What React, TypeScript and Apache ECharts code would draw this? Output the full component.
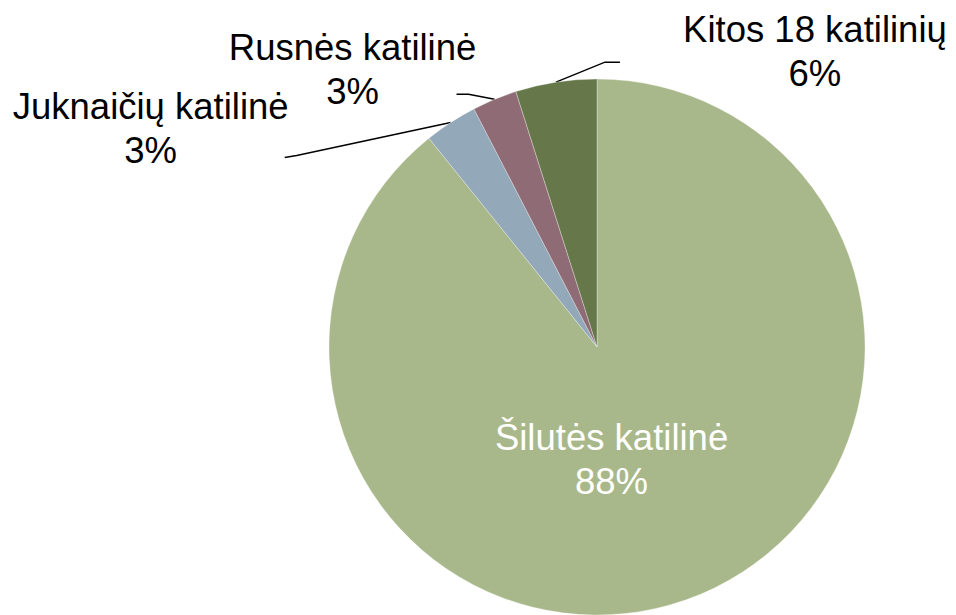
import React, { useEffect, useRef } from "react";
import * as echarts from "echarts";

const categories = ["Šilutės katilinė", "Juknaičių katilinė", "Rusnės katilinė", "Kitos 18 katilinių"];
const values = [89.3, 3.2, 2.7, 4.9];
const shownPercents = [88, 3, 3, 6];
const colors = ["#A9B88A", "#93A9B9", "#8E6B75", "#66784A"];

const CX = 597;
const CY = 347;
const R = 268;

// label centre offsets relative to the slice's edge point, and leader-line bends
const labelOffsets: number[][] = [[-31, -17], [-300, 6], [-142, -30], [259, -31]];
const lineBends: (number[][] | null)[] = [null, [[-154, 33], [-166, 35]], [[-26, -5], [-38, -5]], [[49, -20], [64, -20]]];

function edgePoint(i: number): number[] {
  const total = values.reduce((a, b) => a + b, 0);
  let before = 0;
  for (let k = 0; k < i; k++) before += values[k];
  const mid = ((before + values[i] / 2) / total) * Math.PI * 2;
  return [CX + R * Math.sin(mid), CY - R * Math.cos(mid)];
}

export default function App() {
  const ref = useRef<HTMLDivElement>(null);
  useEffect(() => {
    document.body.style.margin = "0";
    const chart = echarts.init(ref.current!, null, { renderer: "svg" });
    const data = categories.map((name, i) => {
      const item: any = { name, value: values[i], itemStyle: { color: colors[i] } };
      if (i === 0) {
        item.label = { position: "inside", color: "#ffffff" };
        item.labelLine = { show: false };
      }
      return item;
    });
    chart.setOption({
      animation: false,
      backgroundColor: "#ffffff",
      series: [
        {
          type: "pie",
          center: [CX, CY],
          radius: [0, R],
          startAngle: 90,
          clockwise: true,
          avoidLabelOverlap: false,
          itemStyle: { borderColor: "rgba(255,255,255,0.5)", borderWidth: 0.6 },
          label: {
            show: true,
            position: "outside",
            fontFamily: "Liberation Sans, Arial, sans-serif",
            fontSize: 36.5,
            lineHeight: 44,
            color: "#000000",
            align: "center",
            formatter: (p: any) => `${p.name}\n${shownPercents[p.dataIndex]}%`,
          },
          labelLine: {
            show: true,
            smooth: false,
            length: 20,
            length2: 10,
            lineStyle: { color: "#000000", width: 1.5 },
          },
          labelLayout: (params: any) => {
            const i = params.dataIndex;
            const off = labelOffsets[i];
            if (i === 0) {
              const lr = params.labelRect;
              return {
                x: lr.x + lr.width / 2 + off[0],
                y: lr.y + lr.height / 2 + off[1],
                align: "center",
                verticalAlign: "middle",
              };
            }
            const p0 =
              params.labelLinePoints && params.labelLinePoints[0]
                ? [params.labelLinePoints[0][0], params.labelLinePoints[0][1]]
                : edgePoint(i);
            const bends = lineBends[i] || [];
            const pts = [p0, ...bends.map((b) => [p0[0] + b[0], p0[1] + b[1]])];
            return {
              x: p0[0] + off[0],
              y: p0[1] + off[1],
              align: "center",
              verticalAlign: "middle",
              labelLinePoints: pts,
            };
          },
          data,
        },
      ],
    });
    return () => chart.dispose();
  }, []);
  return <div ref={ref} style={{ width: 956, height: 615 }} />;
}
